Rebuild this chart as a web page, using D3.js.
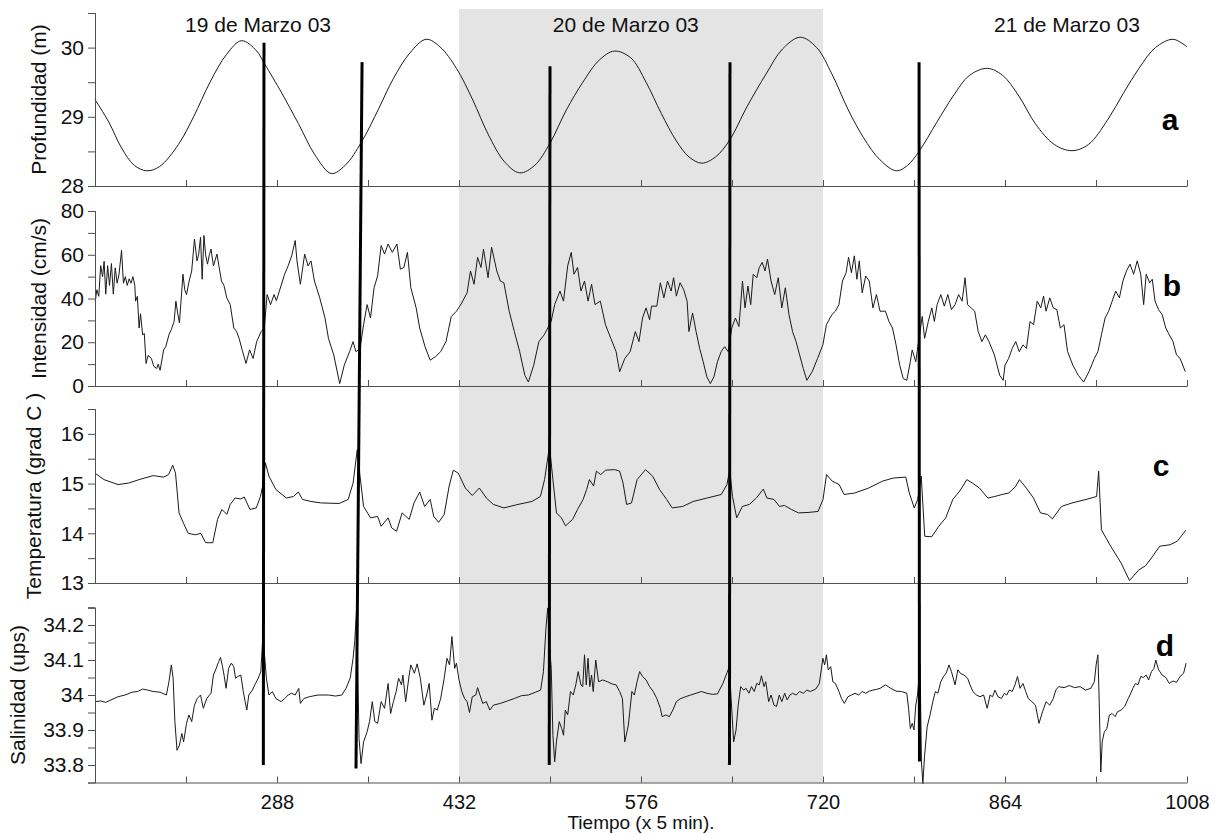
<!DOCTYPE html>
<html><head><meta charset="utf-8">
<script src="https://cdn.jsdelivr.net/npm/d3@7"></script>
<style>body{margin:0;background:#fff;} svg{display:block;font-family:Arial,"Liberation Sans",sans-serif;}</style>
</head><body><svg id="c" width="1220" height="834"></svg>
<script>
// ---------- DATA ----------
const tA = [144,155,165,175,185,195,210,222,235,248,260,272,277,290,305,318,331,342,355,368,380,393,406,417,430,443,455,468,480,492,504,517,530,543,555,568,580,592,604,614,624,635,646,660,675,688,702,715,727,740,752,765,778,787,796,810,823,836,850,862,875,888,903,917,930,945,958,970,983,997,1008];
const profundidad = [29.25,28.92,28.55,28.3,28.22,28.28,28.6,29.0,29.5,29.9,30.1,29.95,29.8,29.4,28.9,28.45,28.18,28.3,28.64,29.1,29.55,29.92,30.12,30.01,29.7,29.24,28.75,28.35,28.19,28.3,28.62,29.1,29.5,29.82,29.95,29.85,29.5,29.05,28.65,28.42,28.33,28.42,28.66,29.15,29.62,29.98,30.15,30.0,29.62,29.1,28.7,28.38,28.22,28.3,28.5,28.92,29.3,29.6,29.7,29.6,29.3,28.9,28.6,28.51,28.6,28.95,29.35,29.7,30.0,30.12,30.01];

const tB = [144.2,145.5,147,148.5,150,151.2,152.5,154,155.5,157,158.5,160,161.5,163,165,166.5,168,169.5,171,172.5,174,175.5,176.1,177.5,178.9,180,181.7,183,184.4,186,188.6,190.5,192.8,194,195.5,198.3,200,202.5,204.5,206.6,208,209.5,210.8,213.6,215,216.4,218.5,220.5,222.7,224.7,226,227.5,228.8,230.2,231.5,233,234.5,235.8,237.7,240.5,242,244.1,246,248.3,251,253.8,256,258,260.8,263.5,266.3,269.1,271.9,275.5,277.9,280.2,282.9,285.7,287.5,289.9,294,296.8,299.6,302.4,303.8,306.5,309.9,312.6,314.9,317.6,321.8,326,328.7,332.9,337.6,341.2,345.4,348.2,350.4,353.7,356.5,359.3,362,364.8,367.6,370.4,373.1,375.9,379.2,382.9,385.6,388.4,391.2,393.9,398.1,400.9,405.1,409.2,413.4,417.5,421.7,425.9,430,434.2,438.4,441.1,443.9,446.7,449.4,451.4,455,457.8,461.9,464.7,467.5,471.7,475.8,480,484.1,486.9,491.1,495.2,499.4,502.2,504.9,507.7,511.9,514.7,518,520.8,523,525.8,528.5,531.3,534.1,536.9,539.6,543.8,547.9,552.1,556.3,559.1,563.2,567.4,571.5,574.4,577.2,580,582.8,584.3,588.5,591.3,594.1,597,599.8,601.8,604,606.9,609.7,612.5,613.9,616.8,619.6,622.4,625.2,628.1,630.9,633.7,636.5,639.4,642.2,645,647.8,650.7,653.5,656.3,658.3,660.6,662.8,664.8,667.6,669.6,671.9,674.1,676.1,678.9,681.8,684.6,687.4,690.2,693.1,695.9,698.7,701.5,704.4,707.2,711.4,715.7,719.9,722.7,727,729.8,732.6,735.4,738.3,740.2,742.5,744.8,746.8,748.7,751,753.8,756.6,759.5,762.3,765.1,769.4,772.2,775,777.8,780.7,783.5,786.3,789.1,790.6,793.4,795.6,798.5,800.4,803.3,806.1,808.1,810.3,813.2,816,818.8,821.6,824.5,827.3,830.1,832.4,834.4,837.2,840,842.8,845.7,848.5,851.3,855.6,859.8,862.6,864,866.9,869.7,872.5,875.3,878.2,881,883.8,886.6,889.5,892.3,894.5,896.5,899.4,902.2,905,907.8,910.7,913.5,917.7,922,926.2,930.4,934.7,937.5,940.3,943.2,946,948.8,951.6,954.5,957.3,960.1,962.9,965.8,968.6,971.4,973.7,975.7,978.5,980.5,982.7,985.5,988.4,991.2,994,996.9,999.7,1002.5,1006.7];
const intensidad = [38.8,44,41,55,50,57,42,55,46,56,42,54,47,51,62,47,50,46,49,47,50,46,38.8,41,26.5,33,23.4,24,10.3,14,12.6,9,8,10,7.2,16.5,18,23.4,26,29.5,38.8,33,28.8,51.1,44,41.8,48,52.6,67.2,57.2,60,68,48.8,68.8,60,55.7,60,62.6,54.9,60.3,55,48,46,40.3,37.2,26.5,25,21.8,15.7,10.3,16.5,12.6,20.3,24.9,26.5,41.8,37.2,41.8,39,43.4,51.1,54.9,59.5,66.5,57.2,46.5,60.3,54.9,57.2,48,40.3,31.1,21.8,14.2,1.1,9.5,15.7,20.3,15.7,17,28,37.2,31.1,44.9,50.3,64.2,60.3,64.9,61.1,64.9,53.4,54.2,61.1,44.9,35.7,26.5,18,11.8,13.4,15.7,20.3,31.8,34.2,38,42.6,52.6,46.5,58.8,54.2,62.6,49.5,63.4,52.6,48,47.2,34.2,24.9,15.7,4.9,1.8,9.5,20.3,23.4,26.5,29.5,37.2,43.4,38.8,54.9,61.1,51.1,54.2,43.4,48,38.8,46.5,37.2,38.8,28,21.8,15.7,6.5,12.6,15.7,24.9,20.3,31.1,35.7,30.3,36.5,36.5,47.2,40.3,48,43.4,49.5,41.1,47.2,44.2,38.8,24.9,33.4,24.9,17.2,11.1,4.2,1.1,4.2,11.1,15.7,18,15.7,26.5,31.1,27.2,48,35.7,45.7,37.2,51.1,49.5,54.2,56.5,52.6,58,48,41.8,49.5,35.7,44.9,32.6,24.9,20.3,14.2,8,2.6,6.5,12.6,18.8,28,32.6,34.2,37.2,48,51.8,58.8,51.8,59.5,48.8,57.2,42.6,50.3,48,35.7,41.8,34.2,34.2,29.5,26.5,18.8,9.5,3.4,2.6,11.1,16.5,11.1,20.3,31.8,21.8,29.5,35.7,29.5,37.2,41.8,36.5,41.8,34.9,37.2,41.8,38.8,49.5,37.2,35.7,34.2,24.9,20.3,23.4,20.3,14.2,4.9,2.6,9.5,12.6,17.2,20.3,15.7,18.8,17.2,29.5,28,38.8,35.7,41.1,34.2,40.3,35.7,34.9,26.5,28,15.7,9.5,4.9,1.8,6.5,12.6,15.7,23.4,31.1,34.2,38.8,43.4,40.3,48,52.6,55.7,51.1,57.2,51.1,37.2,51.1,47.2,48.8,38.8,34.9,32.6,26.5,23.4,20.3,14.2,12.6,6.5];

const tC = [144.5,151.1,162.2,170.6,178.9,190,198.3,202.2,205.5,207.7,210.5,213.9,217.7,223.3,227.7,231.6,237.2,241,244.4,248.3,251,254.9,259.4,262.1,266.6,271.6,274.9,277.1,278.8,281.6,287.1,295.4,301,304.9,308.2,314.9,323.2,337.1,344.3,348.2,351.5,353.7,356.5,362,367.6,370.4,375.9,378.7,382.6,387,392.6,396.4,400.9,404.8,409.2,412,415.9,420.3,424.2,427.5,431.4,437,442.5,448.1,453.6,459.2,467.5,478.6,489.7,496.4,499.7,503.6,506.3,509.1,513,516.3,521.9,525.8,530.2,533,535.2,538.5,540.7,544.1,548,555.2,559.1,561.8,564.6,568.5,572.9,579.6,585.2,590.7,596.3,600.7,609,617.3,628.4,639.5,644,646.2,648.4,651.7,656.2,661.7,667.3,672.8,675.6,681.2,685.6,689.5,695,700.6,708.9,716.1,720,722.8,727.2,732.8,736.7,745,756.1,767.2,775.5,785.5,788.3,792.2,794.9,797.7,800.5,806,811.6,817.1,822.7,828.2,833.8,838.2,843.8,850.4,856,861.5,867.1,872.6,875.4,880.9,886.5,892.1,897.6,901.5,908.7,917,928.1,936.5,938.1,940.3,947.6,955.9,962.5,969.8,975.3,980.9,986.4,994.7,1000.3,1007];
const temperatura = [15.2,15.08,14.98,15.01,15.08,15.16,15.13,15.18,15.37,15.21,14.41,14.21,14.0,13.97,14.0,13.81,13.81,14.28,14.48,14.38,14.58,14.71,14.69,14.73,14.48,14.51,14.74,15.01,15.42,15.15,14.88,14.71,14.74,14.83,14.68,14.64,14.61,14.6,14.68,15.01,15.68,15.15,14.54,14.31,14.34,14.14,14.31,14.11,14.04,14.41,14.28,14.61,14.83,14.54,14.68,14.34,14.22,14.38,14.95,15.27,15.21,14.91,14.76,14.91,14.71,14.58,14.51,14.58,14.64,14.74,15.08,15.75,15.08,14.41,14.31,14.15,14.28,14.48,14.68,14.88,15.08,14.95,15.25,15.18,15.27,15.28,15.25,15.01,14.58,14.61,15.08,15.28,15.15,14.88,14.68,14.51,14.54,14.64,14.71,14.78,14.98,15.28,14.74,14.31,14.54,14.58,14.71,14.89,14.71,14.68,14.54,14.56,14.48,14.41,14.42,14.44,14.68,15.18,15.05,14.98,14.78,14.81,14.91,15.05,15.11,15.13,14.81,14.51,14.68,15.15,13.94,13.93,14.14,14.31,14.68,14.85,15.08,15.01,14.91,14.71,14.74,14.78,14.81,14.95,15.08,14.91,14.71,14.41,14.38,14.29,14.54,14.61,14.68,14.74,15.25,14.07,13.74,13.4,13.05,13.26,13.35,13.54,13.74,13.77,13.84,14.06];

const tD = [144.2,148.4,152.5,156.7,162.2,167.8,173.3,177.5,181.7,185.8,190,195.5,200.5,202.5,204.4,205.8,207.2,208.9,210.8,212.7,214.1,216.4,218.3,220.5,222.7,224.9,227.5,229.7,232.4,235.8,237.7,239.9,241.9,243.3,244.9,246.3,247.7,249.7,251.9,253.8,255.2,257.1,259.4,261.3,264.1,265.7,268.5,271,273.2,275.2,276.6,277.9,279.6,281.6,284.3,287.1,291.3,294.1,296.8,299.6,302.4,305.2,306.5,309.3,313.5,320.4,328.7,334.3,339.3,342.6,345.9,348.2,349.5,350.9,351.8,352.9,354.5,356.5,359.3,361.2,363.4,365.4,367.6,370.4,373.1,375.9,377.9,380.1,382.3,384.2,386.5,387.6,389.8,392.6,393.9,396.7,398.9,401.4,404.2,406.4,408.4,410.6,412.5,414.8,417.5,420.3,422.5,424.5,426.4,428.6,430,432,434.2,436.4,438.4,440.3,442.5,445.3,446.7,448.6,450.8,453.6,456.4,459.2,464.7,470.3,475.8,481.4,486.9,492.5,496.6,498.8,500.8,502.2,503.6,505,506.3,507.7,509.1,511.3,513.3,514.7,516.1,518,520.2,522.4,524.4,526.3,528.5,529.9,531.3,532.7,534.1,535.5,536.9,538.2,540.2,542.4,545.7,549.4,553.5,556.3,559.1,561.3,563.2,566,568.8,570.7,572.9,574.9,577.2,580,582.8,585.7,588.5,591.3,592.7,595.6,598.4,601.2,604,606.9,611.1,615.3,619.6,623.8,628.1,632.3,636.5,640.8,644.2,645.9,647.3,649.3,651.2,652.9,654.9,657.2,659.1,661.4,663.4,665.6,667.6,669.6,671.3,673.3,674.7,677,678.9,681.2,683.2,685.4,687.4,689.7,691.6,693.9,695.9,698.7,701.5,704.4,707.2,710,714.3,717.1,719.9,721.3,722.7,724.1,726.1,727.8,729.8,732.6,734.6,736.9,739.7,742.5,745.3,748.2,751,753.8,756.6,759.5,762.3,765.1,769.4,773.6,777.8,782.1,786.3,787.7,789.1,790.6,792,793.4,794.8,796.8,797.9,799,800.4,802.4,804.7,806.9,808.9,810.9,813.2,815.4,817.4,819.7,821.6,824.5,826.7,828.7,831.5,834.4,836.3,838.6,841.4,844.2,847.1,849.9,852.2,854.1,856.1,858.4,861.2,863.5,865.4,867.4,869.7,871.9,873.9,875.9,878.2,880.4,882.4,885.2,888.1,890.9,893.7,896.5,899.4,902.2,904.2,906.4,910.7,914.9,919.1,923.4,927.6,931.9,934.7,936.1,937.5,938.4,939.8,940.9,942.6,944.6,946.6,948.8,951.1,953,955.9,958.7,961.5,962.9,965.2,967.2,969.2,971.4,973.4,975.7,977.6,979.9,981.9,983.3,985.5,988.4,991.2,994,996.9,999.7,1002.5,1005.3,1007.3];
const salinidad = [33.981,33.983,33.979,33.986,33.995,34.0,34.008,34.01,34.017,34.014,34.01,34.008,34.0,34.038,34.086,34.048,33.924,33.842,33.857,33.89,33.866,33.919,33.943,33.924,33.971,33.99,34.0,33.962,33.99,34.005,34.057,34.076,34.096,34.107,34.081,34.053,34.019,34.076,34.091,34.081,34.048,34.053,34.057,34.01,33.957,34.0,34.014,34.033,34.048,34.067,34.153,34.124,34.048,34.0,34.01,33.99,33.981,33.99,34.0,34.005,34.0,34.019,33.976,33.99,33.995,34.0,34.0,33.997,34.0,34.019,34.048,34.105,34.153,34.239,34.096,33.876,33.804,33.866,33.895,33.924,33.981,33.924,33.919,33.981,33.962,34.033,33.947,33.981,34.01,34.048,34.029,34.057,33.981,34.057,34.086,34.062,34.089,34.048,33.971,34.0,34.033,33.928,33.962,33.957,33.99,34.048,34.105,34.086,34.167,34.076,34.091,34.043,34.01,33.99,33.981,33.95,33.995,34.0,34.021,34.0,33.976,33.981,33.957,33.971,33.976,33.983,33.99,33.998,34.0,34.008,34.014,34.067,34.191,34.249,34.143,34.076,33.885,33.809,33.866,33.924,33.904,33.885,33.957,33.943,34.01,34.0,34.029,34.067,34.029,34.024,34.115,34.029,34.105,34.024,34.057,34.01,34.1,34.038,34.043,34.038,34.031,34.029,34.01,33.99,33.866,33.914,34.01,34.0,34.038,34.067,34.053,34.043,34.024,34.01,33.99,33.962,33.938,33.943,33.938,33.957,33.981,33.989,33.995,34.0,34.005,34.01,34.005,34.002,34.003,34.033,34.065,34.081,33.99,33.866,33.9,33.971,34.024,34.014,34.019,34.005,34.024,34.01,34.033,34.029,34.055,34.024,34.038,33.981,34.0,33.971,33.967,34.0,33.981,34.005,33.986,34.0,34.005,34.0,34.01,34.005,34.014,34.01,34.017,34.033,34.105,34.086,34.115,34.072,34.081,34.038,34.033,34.01,33.99,33.976,33.995,34.0,34.005,34.0,34.01,34.005,34.011,34.014,34.016,34.019,34.029,34.019,34.011,34.01,34.005,33.962,33.904,33.919,33.9,33.971,34.0,34.086,33.809,33.747,33.828,33.909,33.943,33.981,34.01,34.005,34.038,34.053,34.062,34.086,34.067,34.029,34.072,34.062,34.057,34.048,34.029,34.01,34.0,33.995,34.0,33.962,34.0,33.995,34.014,33.995,33.99,34.005,34.0,34.014,34.01,34.029,34.053,34.019,34.033,34.01,33.99,33.981,33.971,33.919,33.952,33.981,33.971,33.99,34.014,34.024,34.021,34.027,34.021,34.024,34.014,34.019,34.038,34.086,34.115,34.0,33.78,33.866,33.895,33.904,33.943,33.947,33.938,33.952,33.957,33.967,33.99,34.0,34.019,34.033,34.029,34.053,34.05,34.057,34.043,34.067,34.076,34.1,34.072,34.057,34.05,34.033,34.04,34.036,34.053,34.062,34.091];

const xTickValues = [144,216,288,360,432,504,576,648,720,792,864,936,1008];
const xTickLabels = ["288","432","576","720","864","1008"];
const dayLabels = ["19 de Marzo 03","20 de Marzo 03","21 de Marzo 03"];
const dayLabelT = [273,564,913];
const shadeRange = [432,720];
// vertical event lines: time at top/bottom, top value (profundidad), bottom value (salinidad)
const evTop = [277.7,355.3,504.0,646.4,796.0];
const evBot = [277.2,350.5,503.4,646.0,796.3];
const evTopV = [30.07,29.79,29.73,29.79,29.79];
const evBotV = [33.80,33.79,33.80,33.80,33.81];

// ---------- LAYOUT ----------
const svg = d3.select("#c");
const X0 = 95, X1 = 1187;
const x = d3.scaleLinear().domain([144,1008]).range([X0,X1]);

const panels = [
  {t:tA, v:profundidad, dom:[28,30.5], top:13, bot:186, major:[28,29,30], minor:[28.5,29.5,30.5], fmt:d3.format("d"), title:"Profundidad (m)", tx:40, letter:"a", lx:1170, ly:130, curve:d3.curveCatmullRom},
  {t:tB, v:intensidad, dom:[0,80], top:211, bot:386, major:[0,20,40,60,80], minor:[10,30,50,70], fmt:d3.format("d"), title:"Intensidad (cm/s)", tx:40, letter:"b", lx:1172, ly:296, curve:d3.curveLinear},
  {t:tC, v:temperatura, dom:[13,16.5], top:409, bot:583, major:[13,14,15,16], minor:[13.5,14.5,15.5,16.5], fmt:d3.format("d"), title:"Temperatura (grad C )", tx:35, letter:"c", lx:1161, ly:476, curve:d3.curveLinear},
  {t:tD, v:salinidad, dom:[33.75,34.25], top:607.5, bot:782.5, major:[33.8,33.9,34.0,34.1,34.2], minor:[33.85,33.95,34.05,34.15,34.25], fmt:d=>(Math.abs(d-34)<1e-9?"34":d3.format(".1f")(d)), title:"Salinidad (ups)", tx:19, letter:"d", lx:1165, ly:656, curve:d3.curveLinear}
];
panels.forEach(p=>{p.y = d3.scaleLinear().domain(p.dom).range([p.bot,p.top]);});

// shaded day
svg.append("rect").attr("x",x(shadeRange[0])).attr("width",x(shadeRange[1])-x(shadeRange[0]))
  .attr("y",9).attr("height",panels[3].bot-9).attr("fill","#e4e4e4");

const axisColor = "#505050";
const fs = 21;

panels.forEach((p,i)=>{
  const g = svg.append("g");
  g.append("path").datum(p.t.map((t,k)=>[t,p.v[k]]))
    .attr("d", d3.line().x(d=>x(d[0])).y(d=>p.y(d[1])).curve(p.curve))
    .attr("fill","none").attr("stroke","#1a1a1a").attr("stroke-width",1);
  const xa = g.append("g").attr("transform",`translate(0,${p.bot})`)
    .call(d3.axisBottom(x).tickValues(xTickValues).tickSizeInner(-6).tickSizeOuter(0).tickFormat(""));
  const ya = g.append("g").attr("transform",`translate(${X0},0)`)
    .call(d3.axisLeft(p.y).tickValues(p.major).tickSize(7).tickPadding(4).tickFormat(p.fmt));
  const ym = g.append("g").attr("transform",`translate(${X0},0)`)
    .call(d3.axisLeft(p.y).tickValues(p.minor).tickSize(7).tickFormat(""));
  [xa,ya,ym].forEach(a=>{
    a.select(".domain").attr("stroke",axisColor);
    a.selectAll(".tick line").attr("stroke",axisColor);
    a.selectAll("text").attr("font-size",fs).attr("fill","#111").style("font-family","Arial, 'Liberation Sans', sans-serif");
  });
  g.append("text").attr("transform",`translate(${p.tx},${(p.top+p.bot)/2}) rotate(-90)`)
    .attr("text-anchor","middle").attr("dominant-baseline","middle")
    .attr("font-size",fs).attr("fill","#111").text(p.title);
  g.append("text").attr("x",p.lx).attr("y",p.ly).attr("text-anchor","middle")
    .attr("font-size",30).attr("font-weight","bold").attr("fill","#000").text(p.letter);
});

// bottom x tick labels
const xl = svg.append("g").attr("transform",`translate(0,${panels[3].bot})`)
  .call(d3.axisBottom(x).tickValues(xTickLabels.map(Number)).tickSize(0).tickPadding(12).tickFormat(d=>String(d)));
xl.select(".domain").remove();
xl.selectAll("text").attr("font-size",20).attr("fill","#111").style("font-family","Arial, 'Liberation Sans', sans-serif");

// x title
svg.append("text").attr("x",x(576)).attr("y",829).attr("text-anchor","middle")
  .attr("font-size",19).attr("fill","#111").text("Tiempo (x 5 min).");

// day labels
dayLabels.forEach((s,i)=>{
  svg.append("text").attr("x",x(dayLabelT[i])).attr("y",32).attr("text-anchor","middle")
    .attr("font-size",fs).attr("fill","#111").text(s);
});

// event lines
const pa = panels[0], pd = panels[3];
evTop.forEach((t,i)=>{
  svg.append("line").attr("x1",x(t)).attr("y1",pa.y(evTopV[i]))
    .attr("x2",x(evBot[i])).attr("y2",pd.y(evBotV[i]))
    .attr("stroke","#000").attr("stroke-width",3);
});
</script></body></html>
